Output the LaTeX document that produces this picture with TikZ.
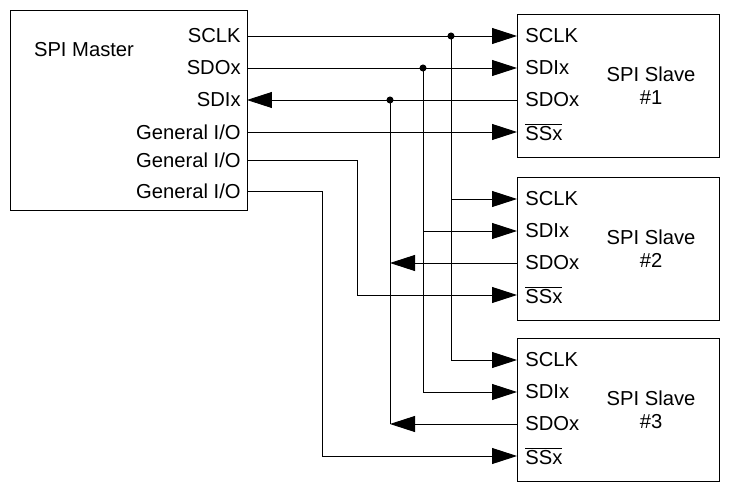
\documentclass[tikz,border=0pt]{standalone}
\usepackage{fontspec}
\setmainfont{Liberation Sans}
\usetikzlibrary{arrows.meta}
\tikzset{
  pin/.style={font=\fontsize{11.5}{13}\selectfont, inner sep=0pt},
  sig/.style={line width=0.5pt},
  tosig/.style={sig, -{Triangle[length=0.5cm, width=0.32cm]}},
  junc/.style={circle, fill, inner sep=0pt, minimum size=4pt},
}
\begin{document}
\begin{tikzpicture}[x=0.02cm, y=-0.02cm]
  \useasboundingbox (0,0) rectangle (733,493);

  % Master
  \draw[sig] (10,10) rectangle (247,210);
  \node[pin] (master) at (84,50) {SPI Master};
  \foreach \y/\name/\label in {36/mSCLK/{SCLK}, 68/mSDO/{SDOx}, 100/mSDI/{SDIx}, 132/mGIOa/{General I/O}, 160/mGIOb/{General I/O}, 191/mGIOc/{General I/O}}
  {
    \node[pin, anchor=east] at (241,\y) {\label};
    \coordinate (\name) at (247,\y);
  }

  % Slaves
  \foreach \n/\top in {1/14, 2/177, 3/338}
  {
    \draw[sig] (517,\top) rectangle (719,\top+143);
    \node[pin, align=center] (slave\n) at (651,\top+72) {SPI Slave\\\#\n};
    \node[pin, anchor=west] at (525,\top+22) {SCLK};
    \node[pin, anchor=west] at (525,\top+54) {SDIx};
    \node[pin, anchor=west] at (525,\top+86) {SDOx};
    \node[pin, anchor=west] at (525,\top+118) {$\overline{\mbox{SSx}}$};
    \coordinate (s\n SCLK) at (517,\top+22);
    \coordinate (s\n SDI) at (517,\top+54);
    \coordinate (s\n SDO) at (517,\top+86);
    \coordinate (s\n SS) at (517,\top+118);
  }

  % Bus junctions
  \node[junc] (jSCLK) at (451,36) {};
  \node[junc] (jSDO) at (423,68) {};
  \node[junc] (jSDI) at (390,100) {};
  \coordinate (bSCLKb) at (451,199);
  \coordinate (bSCLKc) at (451,360);
  \coordinate (bSDOb) at (423,231);
  \coordinate (bSDOc) at (423,392);
  \coordinate (bSDIb) at (390,263);
  \coordinate (bSDIc) at (390,424);

  % SCLK
  \draw[tosig] (mSCLK) -- (s1SCLK);
  \draw[sig] (jSCLK.center) -- (bSCLKc);
  \draw[tosig] (bSCLKb) -- (s2SCLK);
  \draw[tosig] (bSCLKc) -- (s3SCLK);

  % SDO master -> SDI slaves
  \draw[tosig] (mSDO) -- (s1SDI);
  \draw[sig] (jSDO.center) -- (bSDOc);
  \draw[tosig] (bSDOb) -- (s2SDI);
  \draw[tosig] (bSDOc) -- (s3SDI);

  % SDO slaves -> SDI master
  \draw[tosig] (s1SDO) -- (mSDI);
  \draw[sig] (jSDI.center) -- (bSDIc);
  \draw[tosig] (s2SDO) -- (bSDIb);
  \draw[tosig] (s3SDO) -- (bSDIc);

  % Slave selects
  \draw[tosig] (mGIOa) -- (s1SS);
  \draw[tosig] (mGIOb) -| (357,295) -- (s2SS);
  \draw[tosig] (mGIOc) -| (322,456) -- (s3SS);
\end{tikzpicture}
\end{document}
